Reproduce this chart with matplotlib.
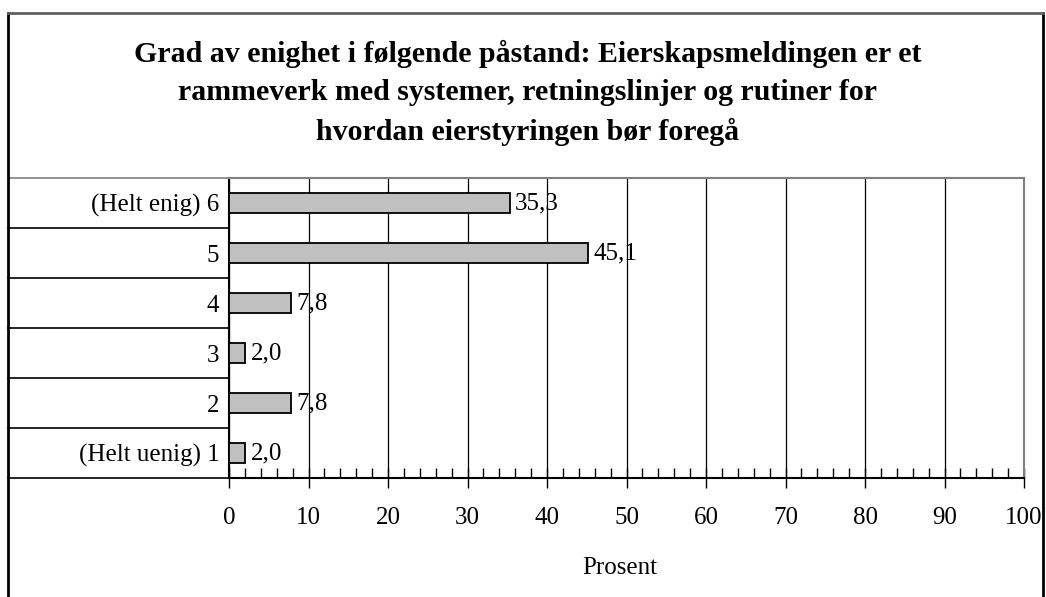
import matplotlib.pyplot as plt
from matplotlib.lines import Line2D
from matplotlib.ticker import MultipleLocator

categories = ['(Helt uenig) 1', '2', '3', '4', '5', '(Helt enig) 6']
values = [2.0, 7.8, 2.0, 7.8, 45.1, 35.3]
title = ('Grad av enighet i følgende påstand: Eierskapsmeldingen er et\n'
         'rammeverk med systemer, retningslinjer og rutiner for\n'
         'hvordan eierstyringen bør foregå')

plt.rcParams['font.family'] = ['Liberation Serif', 'DejaVu Serif']

fig = plt.figure(figsize=(10.46, 5.97), dpi=100)
ax = fig.add_axes([229 / 1046, 1 - 478 / 597, 795 / 1046, 300 / 597])

y = range(len(categories))
ax.barh(y, values, height=0.4, color='#c0c0c0', edgecolor='black', linewidth=1.3, zorder=3)
for i, v in enumerate(values):
    ax.text(v + 0.7, i, f'{v:.1f}'.replace('.', ','), va='center', ha='left', fontsize=18, zorder=4)

ax.set_xlim(0, 100)
ax.set_ylim(-0.5, len(categories) - 0.5)
ax.set_yticks(list(y))
ax.set_yticklabels(categories, fontsize=18)
ax.tick_params(axis='y', length=0, pad=7)
ax.xaxis.set_major_locator(MultipleLocator(10))
ax.xaxis.set_minor_locator(MultipleLocator(2))
ax.tick_params(axis='x', which='major', direction='inout', length=14, width=1, labelsize=18, pad=14)
ax.tick_params(axis='x', which='minor', direction='in', length=7, width=1)
ax.grid(axis='x', which='major', color='black', linewidth=0.9, zorder=1)
ax.set_xlabel('Prosent', fontsize=18, labelpad=18)
ax.xaxis.set_label_coords(0.491, -0.265)

for s in ['top', 'right']:
    ax.spines[s].set_color('#808080')
    ax.spines[s].set_linewidth(1.5)
ax.spines['left'].set_linewidth(1.5)
ax.spines['bottom'].set_linewidth(1.5)

# category separator lines in the label area
trans = ax.get_yaxis_transform()
left = (8 - 229) / 795
for b in [i - 0.5 for i in range(len(categories) + 1)]:
    col = '#808080' if b == len(categories) - 0.5 else 'black'
    ax.plot([left, 0], [b, b], transform=trans, color=col, linewidth=1.2, clip_on=False)

# outer frame
fx0, fx1, fy1 = 8 / 1046, 1043 / 1046, 1 - 13 / 597
fig.add_artist(Line2D([fx0, fx0], [0, fy1], color='black', linewidth=2))
fig.add_artist(Line2D([fx1, fx1], [0, fy1], color='black', linewidth=2))
fig.add_artist(Line2D([fx0, fx1], [fy1, fy1], color='#606060', linewidth=2))

fig.text(528 / 1046, 1 - 93 / 597, title, ha='center', va='center', fontsize=21.5,
         fontweight='bold', linespacing=1.53)

fig.savefig('out.png', dpi=100)
